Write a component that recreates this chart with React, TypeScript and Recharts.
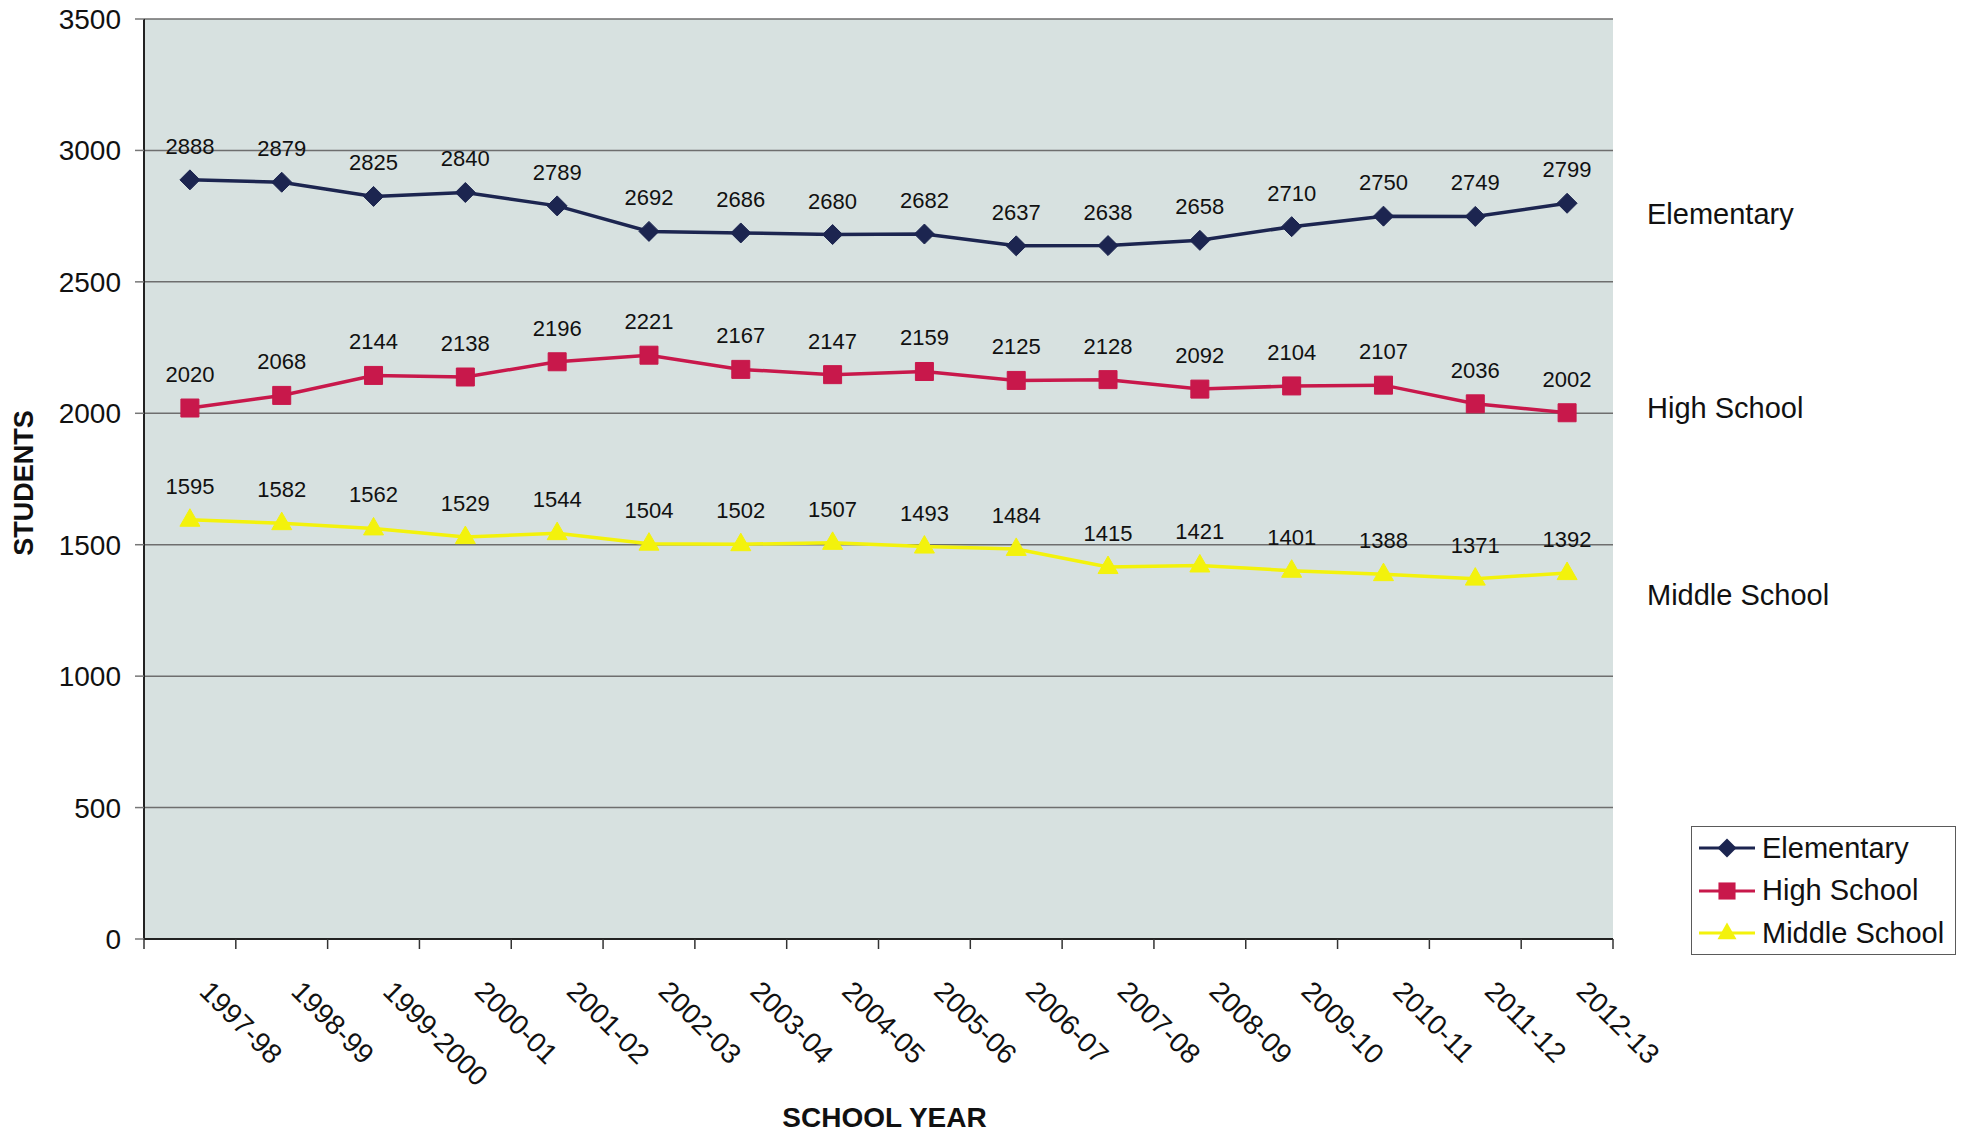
import {
  LineChart,
  Line,
  XAxis,
  YAxis,
  CartesianGrid,
  Legend,
  Label,
} from "recharts";

const YEARS = [
  "1997-98", "1998-99", "1999-2000", "2000-01", "2001-02", "2002-03", "2003-04", "2004-05",
  "2005-06", "2006-07", "2007-08", "2008-09", "2009-10", "2010-11", "2011-12", "2012-13",
];
const ELEMENTARY = [2888, 2879, 2825, 2840, 2789, 2692, 2686, 2680, 2682, 2637, 2638, 2658, 2710, 2750, 2749, 2799];
const HIGH_SCHOOL = [2020, 2068, 2144, 2138, 2196, 2221, 2167, 2147, 2159, 2125, 2128, 2092, 2104, 2107, 2036, 2002];
const MIDDLE_SCHOOL = [1595, 1582, 1562, 1529, 1544, 1504, 1502, 1507, 1493, 1484, 1415, 1421, 1401, 1388, 1371, 1392];
const Y_TICKS = [0, 500, 1000, 1500, 2000, 2500, 3000, 3500];

const FONT = "'Liberation Sans', Arial, sans-serif";
const W = 1971;
const H = 1135;
const PLOT_LEFT = 144;
const PLOT_RIGHT = 1613;
const STEP = (PLOT_RIGHT - PLOT_LEFT) / YEARS.length;

type Shape = "diamond" | "square" | "triangle";

const SERIES: { key: string; name: string; color: string; shape: Shape }[] = [
  { key: "elementary", name: "Elementary", color: "#1c2550", shape: "diamond" },
  { key: "high", name: "High School", color: "#c8184b", shape: "square" },
  { key: "middle", name: "Middle School", color: "#f3f20c", shape: "triangle" },
];

const data = YEARS.map((year, i) => ({
  year,
  elementary: ELEMENTARY[i],
  high: HIGH_SCHOOL[i],
  middle: MIDDLE_SCHOOL[i],
}));

function markerPath(shape: Shape, cx: number, cy: number, s = 1) {
  if (shape === "diamond") {
    const r = 10 * s;
    return `M${cx},${cy - r}L${cx + r},${cy}L${cx},${cy + r}L${cx - r},${cy}Z`;
  }
  if (shape === "square") {
    const r = 9 * s;
    return `M${cx - r},${cy - r}H${cx + r}V${cy + r}H${cx - r}Z`;
  }
  const r = 10 * s;
  return `M${cx},${cy - r - 1}L${cx + r},${cy + r * 0.65}L${cx - r},${cy + r * 0.65}Z`;
}

const makeDot = (shape: Shape, color: string) => (p: any) =>
  <path key={`dot-${p.index}`} d={markerPath(shape, p.cx, p.cy)} fill={color} stroke={color} strokeWidth={1} />;

const valueLabel = (p: any) => (
  <text key={`lbl-${p.index}`} x={p.x} y={p.y - 26} textAnchor="middle" fontSize={22} fill="#111">
    {p.value}
  </text>
);

const YearTick = (p: any) => {
  const { x, y, payload, index } = p;
  const ax = x + 8;
  const ay = y + 54;
  return (
    <g>
      <line x1={x - STEP / 2} x2={x - STEP / 2} y1={y} y2={y + 10} stroke="#333" strokeWidth={1.5} />
      {index === YEARS.length - 1 && (
        <line x1={x + STEP / 2} x2={x + STEP / 2} y1={y} y2={y + 10} stroke="#333" strokeWidth={1.5} />
      )}
      <text x={ax} y={ay} transform={`rotate(45 ${ax} ${ay})`} textAnchor="start" fontSize={28} fill="#111">
        {payload.value}
      </text>
    </g>
  );
};

const renderLegend = () => (
  <div
    style={{
      border: "1.5px solid #5a5a5a",
      background: "#fff",
      width: 265,
      height: 129,
      boxSizing: "border-box",
      paddingLeft: 7,
      fontFamily: FONT,
    }}
  >
    {SERIES.map((s) => (
      <div key={s.key} style={{ display: "flex", alignItems: "center", height: 42.5 }}>
        <svg width={56} height={22}>
          <line x1={0} x2={56} y1={11} y2={11} stroke={s.color} strokeWidth={3} />
          <path d={markerPath(s.shape, 28, 11, 0.95)} fill={s.color} />
        </svg>
        <span style={{ fontSize: 29, marginLeft: 7, lineHeight: 1, color: "#111", whiteSpace: "nowrap" }}>
          {s.name}
        </span>
      </div>
    ))}
  </div>
);

const SIDE_LABELS = [
  { text: "Elementary", top: 214 },
  { text: "High School", top: 408 },
  { text: "Middle School", top: 595 },
];

export default function App() {
  return (
    <div style={{ position: "absolute", left: 0, top: 0, width: W, height: H, background: "#fff", fontFamily: FONT }}>
      <LineChart
        width={W}
        height={H}
        data={data}
        margin={{ top: 19, right: W - PLOT_RIGHT, bottom: 6, left: 4 }}
      >
        <CartesianGrid vertical={false} stroke="#6e6e6e" strokeWidth={1.5} fill="#d7e1e0" fillOpacity={1} />
        <XAxis
          dataKey="year"
          scale="band"
          interval={0}
          height={190}
          tickLine={false}
          tickSize={0}
          tickMargin={0}
          axisLine={{ stroke: "#222", strokeWidth: 2 }}
          tick={<YearTick />}
        >
          <Label
            value="SCHOOL YEAR"
            position="insideBottom"
            offset={2}
            dx={6}
            style={{ fontSize: 28, fontWeight: 700, fill: "#111" }}
          />
        </XAxis>
        <YAxis
          domain={[0, 3500]}
          ticks={Y_TICKS}
          width={PLOT_LEFT - 4}
          tickSize={9}
          tickMargin={14}
          tickLine={{ stroke: "#777", strokeWidth: 1.5 }}
          axisLine={{ stroke: "#222", strokeWidth: 2 }}
          tick={{ fontSize: 28, fill: "#111" }}
        >
          <Label
            value="STUDENTS"
            angle={-90}
            position="center"
            dx={-51}
            dy={4}
            style={{ fontSize: 27, fontWeight: 700, fill: "#111" }}
          />
        </YAxis>
        <YAxis
          yAxisId="frame"
          orientation="right"
          domain={[0, 3500]}
          width={0}
          tick={false}
          tickLine={false}
          axisLine={{ stroke: "#7a7a7a", strokeWidth: 2 }}
        />
        <Legend
          layout="vertical"
          align="center"
          verticalAlign="middle"
          content={renderLegend}
          wrapperStyle={{ left: 1691, top: 826, width: 265, height: 129 }}
        />
        {SERIES.map((s) => (
          <Line
            key={s.key}
            dataKey={s.key}
            name={s.name}
            type="linear"
            stroke={s.color}
            strokeWidth={3.5}
            dot={makeDot(s.shape, s.color)}
            activeDot={false}
            label={valueLabel}
            isAnimationActive={false}
          />
        ))}
      </LineChart>
      {SIDE_LABELS.map((l) => (
        <div
          key={l.text}
          style={{
            position: "absolute",
            left: 1647,
            top: l.top,
            transform: "translateY(-50%)",
            fontSize: 29,
            lineHeight: 1,
            color: "#111",
            whiteSpace: "nowrap",
          }}
        >
          {l.text}
        </div>
      ))}
    </div>
  );
}
